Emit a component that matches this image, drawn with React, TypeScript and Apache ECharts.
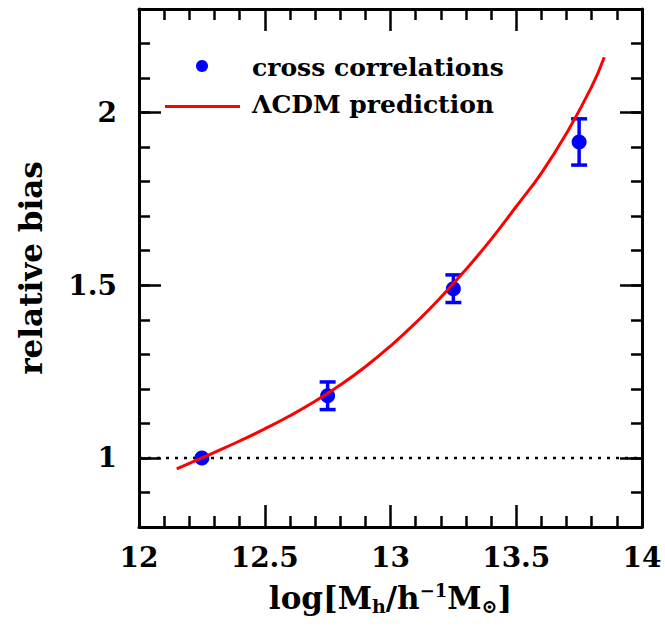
import React, { useEffect, useRef } from 'react';
import * as echarts from 'echarts';

const FONT = '"DejaVu Serif", "Liberation Serif", serif';

// cross-correlation measurements
const massBins = [12.25, 12.75, 13.25, 13.75];
const biasValues = [1.0, 1.18, 1.49, 1.915];
const biasErrors = [0, 0.04, 0.04, 0.067];

// LCDM prediction curve
const lcdmMass = [12.15, 12.2, 12.25, 12.3, 12.4, 12.5, 12.6, 12.7, 12.8, 12.9, 13.0, 13.1, 13.2, 13.3, 13.4, 13.5, 13.6, 13.7, 13.8, 13.85];
const lcdmBias = [0.968, 0.984, 1.0, 1.016, 1.049, 1.084, 1.122, 1.164, 1.211, 1.264, 1.324, 1.391, 1.465, 1.546, 1.633, 1.728, 1.825, 1.94, 2.075, 2.16];

// reference line b = 1
const refMass = [12, 14];
const refBias = [1, 1];

const yMajorTicks = [1, 1.5, 2];
const legendLabels = ['cross correlations', '\u039BCDM prediction'];

const BLACK = '#000';
const BLUE = '#0000ff';
const RED = '#ff0000';

export default function App() {
  const ref = useRef<HTMLDivElement>(null);

  useEffect(() => {
    if (!ref.current) return;
    const chart = echarts.init(ref.current, null, { renderer: 'svg' });

    const xCommon = (position: 'bottom' | 'top', showLabel: boolean) => ({
      type: 'value',
      position,
      min: 12,
      max: 14,
      interval: 0.5,
      splitLine: { show: false },
      axisLine: { show: true, onZero: false, lineStyle: { color: BLACK, width: 3 } },
      axisTick: { show: true, inside: true, length: 22, lineStyle: { color: BLACK, width: 2.5 } },
      minorTick: { show: true, splitNumber: 5, length: 11, lineStyle: { color: BLACK, width: 2.5 } },
      axisLabel: {
        show: showLabel,
        margin: 16,
        color: BLACK,
        fontFamily: FONT,
        fontWeight: 'bold',
        fontSize: 28,
        formatter: (v: number) => String(+v.toFixed(1)),
      },
    });

    const yMinor = (position: 'left' | 'right') => ({
      type: 'value',
      position,
      min: 0.8,
      max: 2.3,
      interval: 0.1,
      splitLine: { show: false },
      axisLine: { show: true, onZero: false, lineStyle: { color: BLACK, width: 3 } },
      axisTick: { show: true, inside: true, length: 11, lineStyle: { color: BLACK, width: 2.5 } },
      axisLabel: { show: false },
    });

    const yMajor = (position: 'left' | 'right', showLabel: boolean, withName: boolean) => ({
      type: 'value',
      position,
      min: 0.8,
      max: 2.3,
      splitLine: { show: false },
      axisLine: { show: false, onZero: false },
      axisTick: { show: true, inside: true, length: 22, customValues: yMajorTicks, lineStyle: { color: BLACK, width: 2.5 } },
      axisLabel: {
        show: showLabel,
        customValues: yMajorTicks,
        margin: 22,
        color: BLACK,
        fontFamily: FONT,
        fontWeight: 'bold',
        fontSize: 28,
        formatter: (v: number) => String(+v.toFixed(1)),
      },
      name: withName ? 'relative bias' : '',
      nameLocation: 'middle',
      nameRotate: 90,
      nameGap: 93,
      nameTextStyle: { color: BLACK, fontFamily: FONT, fontWeight: 'bold', fontSize: 31 },
    });

    const xAxes: any[] = [xCommon('bottom', true), xCommon('top', false)];
    xAxes[0].name = '{a|log[M}{s|h}{a|/h}{p|\u22121}{a|M}{s|\u2299}{a|]}';
    xAxes[0].nameLocation = 'middle';
    xAxes[0].nameGap = 54;
    xAxes[0].nameTextStyle = {
      color: BLACK,
      fontFamily: FONT,
      fontWeight: 'bold',
      fontSize: 31,
      rich: {
        a: { fontFamily: FONT, fontWeight: 'bold', fontSize: 31, lineHeight: 34, color: BLACK },
        s: { fontFamily: FONT, fontWeight: 'bold', fontSize: 19, lineHeight: 12, verticalAlign: 'bottom', color: BLACK },
        p: { fontFamily: FONT, fontWeight: 'bold', fontSize: 18, lineHeight: 20, verticalAlign: 'top', color: BLACK },
      },
    };

    const option: any = {
      animation: false,
      backgroundColor: '#fff',
      grid: { left: 139, right: 23, top: 9, bottom: 100, containLabel: false },
      xAxis: xAxes,
      yAxis: [yMinor('left'), yMajor('left', true, true), yMinor('right'), yMajor('right', false, false)],
      series: [
        {
          type: 'line',
          name: 'reference',
          data: refMass.map((x, i) => [x, refBias[i]]),
          showSymbol: false,
          symbol: 'none',
          lineStyle: { color: BLACK, width: 2.5, type: [3, 6] },
          z: 1,
        },
        {
          type: 'custom',
          name: 'errors',
          data: massBins.map((x, i) => [x, biasValues[i], biasErrors[i]]),
          renderItem: (params: any, api: any) => {
            const x = api.value(0);
            const y = api.value(1);
            const e = api.value(2);
            if (!e) return { type: 'group', children: [] };
            const top = api.coord([x, y + e]);
            const bot = api.coord([x, y - e]);
            const hw = 8;
            const style = { stroke: BLUE, lineWidth: 3.5 };
            return {
              type: 'group',
              children: [
                { type: 'line', shape: { x1: top[0], y1: top[1], x2: bot[0], y2: bot[1] }, style },
                { type: 'line', shape: { x1: top[0] - hw, y1: top[1], x2: top[0] + hw, y2: top[1] }, style },
                { type: 'line', shape: { x1: bot[0] - hw, y1: bot[1], x2: bot[0] + hw, y2: bot[1] }, style },
              ],
            };
          },
          z: 2,
        },
        {
          type: 'scatter',
          name: legendLabels[0],
          data: massBins.map((x, i) => [x, biasValues[i]]),
          symbol: 'circle',
          symbolSize: 15,
          itemStyle: { color: BLUE, opacity: 1 },
          z: 3,
        },
        {
          type: 'line',
          name: legendLabels[1],
          data: lcdmMass.map((x, i) => [x, lcdmBias[i]]),
          smooth: true,
          showSymbol: false,
          symbol: 'none',
          lineStyle: { color: RED, width: 3 },
          z: 4,
        },
      ],
      graphic: [
        { type: 'circle', shape: { cx: 202, cy: 66, r: 6 }, style: { fill: BLUE } },
        {
          type: 'text', x: 252, y: 67,
          style: { text: legendLabels[0], fill: BLACK, font: `bold 25px ${FONT}`, verticalAlign: 'middle', align: 'left' },
        },
        { type: 'line', shape: { x1: 165, y1: 106.5, x2: 240, y2: 106.5 }, style: { stroke: RED, lineWidth: 3 } },
        {
          type: 'text', x: 252, y: 104,
          style: { text: legendLabels[1], fill: BLACK, font: `bold 25px ${FONT}`, verticalAlign: 'middle', align: 'left' },
        },
      ],
    };

    chart.setOption(option);
    return () => chart.dispose();
  }, []);

  return (
    <div
      ref={ref}
      style={{ position: 'fixed', left: 0, top: 0, width: 665, height: 627, background: '#fff' }}
    />
  );
}
